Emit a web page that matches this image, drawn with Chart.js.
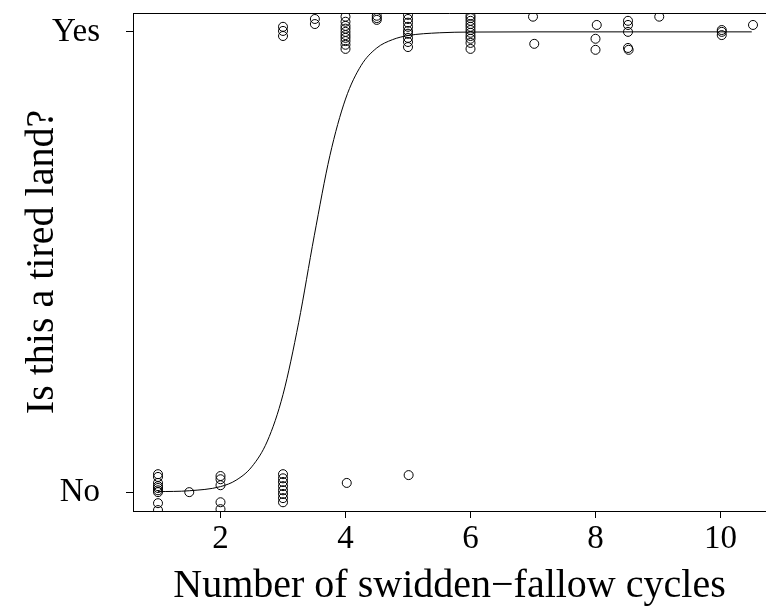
<!DOCTYPE html>
<html>
<head>
<meta charset="utf-8">
<script src="https://cdn.jsdelivr.net/npm/chart.js@4/dist/chart.umd.min.js"></script>
<style>
html,body{margin:0;padding:0;background:#fff;overflow:hidden;}
canvas{display:block;}
</style>
</head>
<body>
<canvas id="c" width="766" height="606"></canvas>
<script>
const yesX = [3.0,3.0,3.0, 3.51,3.51, 4.0,4.0,4.0,4.0,4.0,4.0,4.0,4.0,4.0,4.0, 4.5,4.5,4.5,
  5.0,5.0,5.0,5.0,5.0,5.0,5.0,5.0,5.0, 6.0,6.0,6.0,6.0,6.0,6.0,6.0,6.0,6.0,6.0,6.0,
  7.0,7.02, 8.02,8.0,8.0, 8.52,8.52,8.52,8.52,8.53, 9.02, 10.02,10.02,10.02, 10.52];
const yesY = [1.011,1.002,0.991, 1.028,1.017, 1.033,1.022,1.013,1.007,1.000,0.993,0.987,0.980,0.972,0.963, 1.035,1.030,1.026,
  1.037,1.028,1.020,1.011,1.002,0.996,0.987,0.978,0.967, 1.035,1.030,1.024,1.017,1.011,1.004,0.998,0.991,0.985,0.976,0.963,
  1.033,0.974, 1.015,0.985,0.961, 1.024,1.015,1.000,0.965,0.961, 1.033, 1.004,1.000,0.993, 1.015];
const noX = [1.0,1.0,1.0,1.0,1.0,1.0,1.0,1.0,1.0, 1.5, 2.0,2.0,2.0,2.0,2.0,
  3.0,3.0,3.0,3.0,3.0,3.0,3.0,3.0, 4.02, 5.01];
const noY = [0.039,0.033,0.020,0.013,0.009,0.004,0.000,-0.024,-0.039, 0.000, 0.035,0.028,0.015,-0.022,-0.037,
  0.039,0.030,0.022,0.013,0.004,-0.004,-0.013,-0.022, 0.020, 0.037];
// Fitted curve
const curveX = [1.0,1.5,2.0,2.25,2.5,2.75,3.0,3.25,3.5,3.75,4.0,4.25,4.5,4.75,5.0,5.5,6.0,7.0,8.0,9.0,10.0,10.5];
const curveY = [0.001,0.003,0.012,0.026,0.055,0.111,0.212,0.368,0.557,0.731,0.854,0.927,0.965,0.983,0.992,0.998,0.9996,1.0,1.0,1.0,1.0,1.0];
const xTicks = [2,4,6,8,10];
const yTicks = [0,1];
const yTickLabels = ['No','Yes'];
const xTitle = 'Number of swidden\u2212fallow cycles';
const yTitle = 'Is this a tired land?';

const serif = '"Liberation Serif","DejaVu Serif",serif';
const toPts = (xs, ys) => xs.map((x,i)=>({x:x,y:ys[i]}));

const boxPlugin = {
  id:'box',
  afterDraw(chart){
    const {ctx, chartArea:a} = chart;
    ctx.save();
    ctx.strokeStyle='#000'; ctx.lineWidth=1;
    ctx.beginPath();
    ctx.moveTo(a.left+0.5, a.top+0.5);
    ctx.lineTo(a.right, a.top+0.5);
    ctx.stroke();
    ctx.restore();
  }
};

const circleStyle = {
  showLine:false, pointStyle:'circle', pointRadius:4.5, pointBorderWidth:1,
  pointBorderColor:'#000', pointBackgroundColor:'rgba(0,0,0,0)', borderColor:'#000'
};
const zeroPad = s => { s.paddingTop=0; s.paddingBottom=0; s.paddingLeft=0; s.paddingRight=0; };

new Chart(document.getElementById('c'), {
  type:'scatter',
  data:{datasets:[
    Object.assign({label:'yes', data:toPts(yesX,yesY)}, circleStyle),
    Object.assign({label:'no', data:toPts(noX,noY)}, circleStyle),
    {label:'fit', type:'line', data:toPts(curveX,curveY), showLine:true, pointRadius:0,
     borderColor:'#000', borderWidth:1, fill:false, cubicInterpolationMode:'monotone'}
  ]},
  options:{
    responsive:false, animation:false, devicePixelRatio:1,
    layout:{autoPadding:false, padding:{top:13,right:0,bottom:0,left:0}},
    plugins:{legend:{display:false}, tooltip:{enabled:false}},
    scales:{
      x:{type:'linear', min:0.6, max:10.728,
        afterFit:s=>{s.height=95; zeroPad(s);},
        afterBuildTicks:s=>{s.ticks=xTicks.map(v=>({value:v}));},
        ticks:{color:'#000', font:{family:serif,size:33}, padding:2, maxRotation:0, autoSkip:false},
        grid:{drawOnChartArea:false, drawTicks:true, tickLength:7, tickColor:'#000', color:'#000'},
        border:{display:true, color:'#000', width:1},
        title:{display:true, text:xTitle, color:'#000', font:{family:serif,size:40,lineHeight:1}, padding:{top:0,bottom:0}}
      },
      y:{type:'linear', min:-0.041, max:1.041,
        afterFit:s=>{s.width=133; zeroPad(s);},
        afterBuildTicks:s=>{s.ticks=yTicks.map(v=>({value:v}));},
        ticks:{color:'#000', font:{family:serif,size:33}, padding:26, autoSkip:false,
          callback:(v)=>{const i=yTicks.indexOf(v); return i>=0?yTickLabels[i]:'';}},
        grid:{drawOnChartArea:false, drawTicks:true, tickLength:7, tickColor:'#000', color:'#000'},
        border:{display:true, color:'#000', width:1},
        title:{display:true, text:yTitle, color:'#000', font:{family:serif,size:40,lineHeight:1}, padding:{top:22,bottom:0}}
      }
    }
  },
  plugins:[boxPlugin]
});
</script>
</body>
</html>
